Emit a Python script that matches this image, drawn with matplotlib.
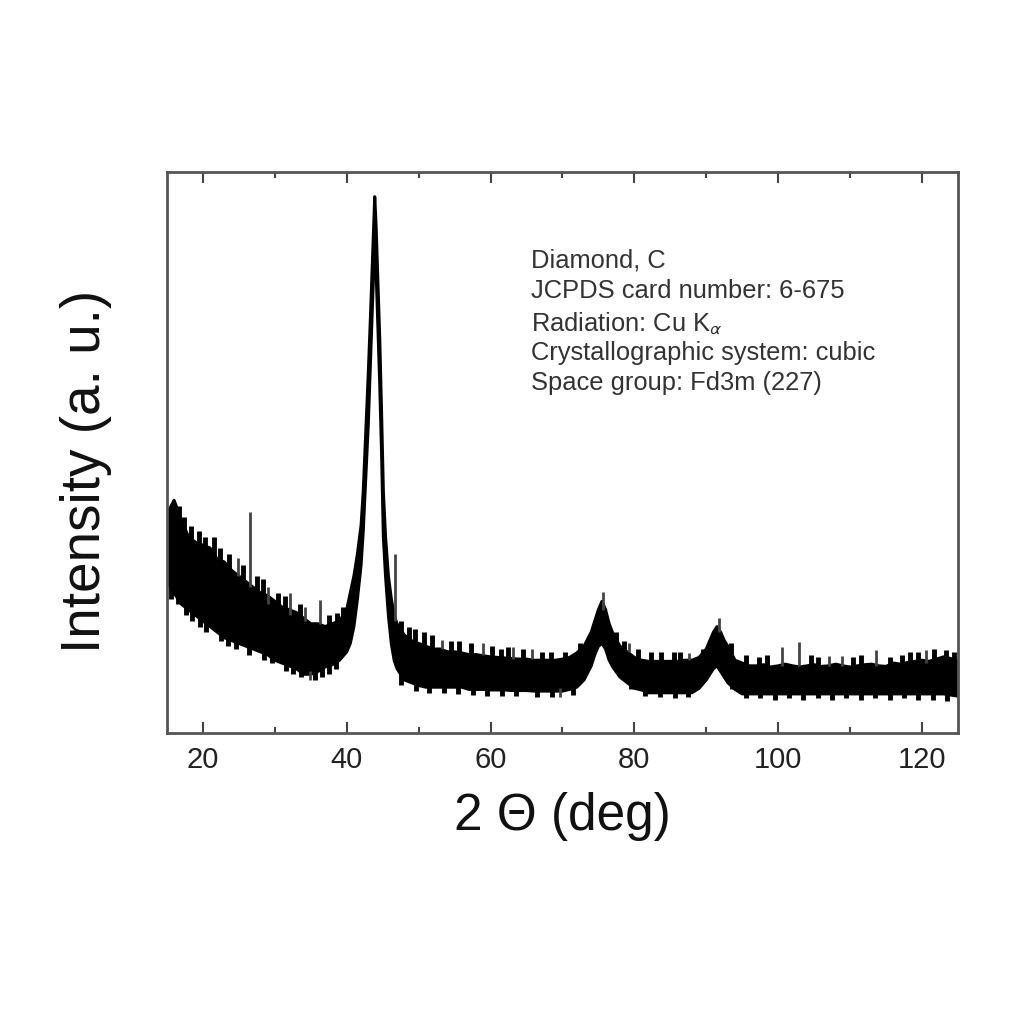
import matplotlib
matplotlib.use("Agg")
import matplotlib.pyplot as plt
from matplotlib.ticker import MultipleLocator
import numpy as np

plt.rcParams['font.family'] = ['Liberation Sans', 'DejaVu Sans']
plt.rcParams['mathtext.fontset'] = 'stixsans'

# XRD trace: upper and lower edge of the noisy band
two_theta = [15, 16, 17, 18, 19, 20, 21, 22, 23, 24, 25, 26, 27, 28, 29, 30,
             31, 32, 33, 34, 35, 36, 37, 38, 39, 40, 40.5, 41, 41.5, 42, 42.3,
             42.6, 43, 43.3, 43.6, 43.9, 44.1, 44.35, 44.6, 44.85, 45.1, 45.4,
             45.8, 46.2, 46.6, 47, 48, 49, 50, 51, 52, 53, 54, 55, 56, 57, 58,
             59, 60, 61, 62, 63, 64, 65, 66, 67, 68, 69, 70, 71, 72, 73, 74,
             74.5, 75, 75.5, 76, 76.5, 77, 78, 79, 80, 81, 82, 83, 84, 85, 86,
             87, 88, 89, 90, 90.5, 91, 91.5, 92, 92.5, 93, 94, 95, 96, 97, 98,
             99, 100, 101, 102, 103, 104, 105, 106, 107, 108, 109, 110, 111,
             112, 113, 114, 115, 116, 117, 118, 119, 120, 121, 122, 123, 124, 125]

upper = [39, 41.5, 38, 35, 34, 33.5, 33, 31, 30.5, 29, 28, 27, 26, 25, 24.5, 23.5,
         22.5, 22, 21.5, 20.5, 19.5, 19.5, 19, 19.5, 20, 22, 25, 28, 32, 37, 43,
         52, 64, 74, 85, 95.6, 90, 80, 70, 57, 43, 35,
         28, 24, 21, 19.5, 17.5, 16.5, 16, 15.5, 15, 15, 14.5, 14.5, 14.3, 14, 14,
         13.8, 13.6, 13.5, 13.4, 13.3, 13.2, 13.2, 13, 13, 13, 13, 13.2, 13.5, 14.3, 15.5, 18,
         20, 22, 23.5, 22, 19.5, 17.8, 15.5, 14.5, 13.5, 13, 12.8, 12.8, 12.8, 12.8, 12.8,
         13, 13, 13.5, 15, 16.5, 18, 19, 18, 16.5, 15.5, 13, 12.5, 12, 12, 12.2,
         11.8, 12, 12.3, 12, 11.8, 12, 12.2, 11.9, 12, 12.3, 12, 11.8, 12,
         12.2, 12.3, 12, 11.9, 12.5, 12.3, 12.6, 12.8, 13, 12.8, 13.2, 13.6, 13.3, 12.8]

lower = [27, 25, 23, 22, 21, 20, 19, 18, 17, 16.5, 16, 15.5, 15, 14.5, 14, 13,
         12.5, 12, 11.5, 10.5, 10.5, 11, 11.8, 12.2, 13, 14.5, 16, 19, 24, 30, 36,
         44, 55, 66, 77, 88, 82, 72, 62, 50, 35, 28,
         21, 16, 13, 11.5, 9.5, 9, 8.5, 8.2, 8.2, 8.2, 8.2, 8.2, 8.2, 7.8, 7.8,
         7.8, 7.7, 7.7, 7.7, 7.6, 7.6, 7.6, 7.5, 7.5, 7.5, 7.5, 7.5, 7.8, 8.2, 9.5, 12,
         14, 15.5, 16, 15, 13, 11.8, 10, 9, 8, 7.7, 7.2, 7.2, 7.2, 7.2, 7.2,
         7.2, 7.2, 8, 9.5, 10.5, 11.5, 12, 11, 10, 9, 7.8, 7, 7, 7, 7,
         7, 7, 7, 7, 7, 7, 7, 7, 7, 7, 7, 7, 7,
         7, 7, 7, 7, 7, 7, 7, 7, 7, 7, 7, 7, 6.8, 6.6]

# single sharp spikes sticking out of the band
spike_pos = [24.9, 26.6, 29.0, 32.1, 34.2, 36.25, 46.7, 53.3, 58.9, 63.1,
             65.8, 75.7, 79.3, 87.6, 91.8, 100.6, 102.9, 107.1, 108.9, 113.6, 120.6]
spike_top = [31.2, 39.4, 26, 25, 22.5, 23.7, 32, 16.6, 16, 15.3,
             15.0, 25.1, 16, 14.3, 20.5, 15.3, 16.3, 13.8, 13.8, 14.8, 14.8]
spike_base = [28, 26, 23, 21, 20, 19.5, 20, 15, 14, 13.3,
              13.2, 22, 14.5, 13, 18, 12, 12, 12, 12, 12, 12.5]

dip_pos = [34.9, 69.6]
dip_low = [9.4, 6.4]
dip_high = [11, 8]

# small noise bumps along the top edge of the band
bump_pos = [15.5, 16.7, 17.4, 18.3, 19.5, 20.3, 21.5, 22.4, 23.6, 25.6, 27.5,
            28.4, 30.5, 31.4, 33.5, 37.5, 38.6, 39.5, 47.5, 48.6, 49.5, 50.7,
            51.8, 54.5, 55.6, 57.3, 60.2, 61.5, 62.4, 64.5, 67.2, 68.4, 70.3,
            72.5, 77.5, 78.6, 80.5, 82.3, 83.7, 85.5, 86.4, 89.5, 93.5, 95.5,
            97.3, 98.5, 104.5, 105.6, 110.4, 111.5, 115.5, 117.2, 118.4, 119.5,
            121.7, 123.4, 124.5]
bump_top = [40, 40.5, 38.5, 37, 36, 35, 35, 33, 32, 30, 28,
            27.5, 25, 24.5, 23, 21, 21.5, 22.5, 20, 19, 18.5, 18,
            17.5, 16.5, 16.5, 16, 15.5, 15, 15.3, 15, 14.5, 14.5, 14.5,
            16, 18, 16.5, 15, 14.5, 14.5, 14.5, 14.5, 15, 16, 14,
            13.5, 14, 14, 13.5, 13.5, 14, 13.5, 14, 14.5, 14.5,
            15, 14.8, 14.5]

# small noise bumps along the bottom edge of the band
dent_pos = [15.6, 16.5, 17.6, 18.5, 19.6, 20.5, 22.5, 23.5, 24.6, 26.4, 28.5,
            29.6, 31.5, 32.5, 33.6, 35.6, 36.5, 37.6, 38.5, 47.6, 49.6, 51.5,
            53.5, 55.5, 57.5, 59.5, 61.6, 63.5, 66.5, 68.5, 71.5, 79.6, 81.5,
            83.5, 85.6, 87.5, 93.6, 95.5, 97.5, 99.5, 101.5, 103.5, 105.5,
            107.5, 109.5, 111.5, 113.5, 115.5, 117.5, 119.5, 121.5, 123.5]
dent_low = [24, 23, 21, 20, 19, 18, 16.5, 15.5, 15, 14, 13,
            12.5, 11, 10.5, 10, 9.5, 10, 10.5, 11.5, 8.5, 7.5, 7.2,
            7.2, 7, 6.8, 6.6, 6.6, 6.6, 6.4, 6.5, 6.8, 7.8, 6.6,
            6.4, 6.3, 6.4, 7.8, 6.2, 6.2, 6, 6.2, 6, 6.2,
            6, 6.2, 6, 6.2, 6, 6.2, 6, 6, 5.8]

info_lines = ["Diamond, C",
              "JCPDS card number: 6-675",
              "Radiation: Cu K$_{\\alpha}$",
              "Crystallographic system: cubic",
              "Space group: Fd3m (227)"]

fig = plt.figure(figsize=(10.24, 10.24), dpi=100)
ax = fig.add_axes([0.163, 0.284, 0.7725, 0.548])

ax.fill_between(two_theta, lower, upper, color='black', linewidth=0)
ax.plot(two_theta, upper, color='black', lw=2.2)
ax.plot(two_theta, lower, color='black', lw=2.2)
# short strokes only, so they stick out of the band edges
ax.vlines(bump_pos, np.array(bump_top) - 3.5, bump_top, color='black', lw=3.5)
ax.vlines(dent_pos, dent_low, np.array(dent_low) + 3.5, color='black', lw=3.5)
ax.vlines(spike_pos, spike_base, spike_top, color='#444444', lw=2)
ax.vlines(dip_pos, dip_low, dip_high, color='#444444', lw=2)

ax.set_xlim(15, 125)
ax.set_ylim(0, 100)
ax.xaxis.set_major_locator(MultipleLocator(20))
ax.xaxis.set_minor_locator(MultipleLocator(10))
ax.set_yticks([])
ax.tick_params(axis='x', which='both', direction='in', top=True,
               color='#444444', width=1.5, labelsize=21, pad=9,
               labelcolor='#222222')
ax.tick_params(axis='x', which='major', length=8)
ax.tick_params(axis='x', which='minor', length=4)
for s in ax.spines.values():
    s.set_color('#555555')
    s.set_linewidth(2)

ax.set_xlabel('2 Θ (deg)', fontsize=37, color='#111111')
ax.set_ylabel('Intensity (a. u.)', fontsize=39.5, color='#111111')
ax.xaxis.set_label_coords(0.5, -0.105)
ax.yaxis.set_label_coords(-0.07, 0.466)

for i, line in enumerate(info_lines):
    ax.text(0.46, 0.864 - i * 0.0548, line, transform=ax.transAxes,
            fontsize=18.4, color='#333333', ha='left', va='top')

fig.savefig('out.png', dpi=100)
